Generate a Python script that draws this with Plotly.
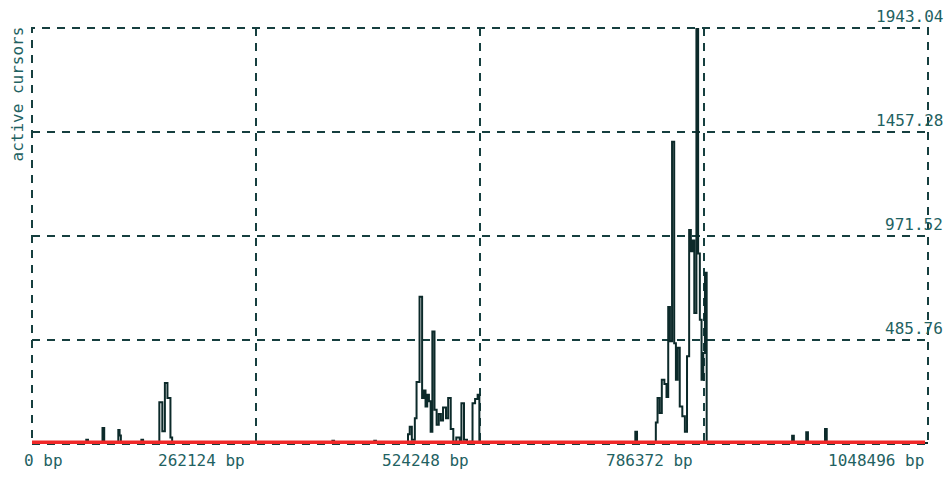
import plotly.graph_objects as go

# Sampled cursor activity along the sequence (position in bp, active cursors)
positions_bp = [
    0, 30000, 63500, 65500, 82500, 84500, 101000, 102500, 104000, 128000, 130000,
    149000, 152500, 155500, 158500, 162000, 164000,
    351500, 353500, 400500, 402500,
    440000, 442000, 444500, 448000, 450000, 453500, 456500, 458500, 460500,
    462500, 464500, 466500, 468500, 471000, 473500, 476000, 478500, 481000,
    484500, 487000, 490000, 493000, 496500, 500500, 502500, 505500, 509000,
    512500, 515500, 518500, 521500, 523500,
    706000, 708000,
    730000, 732000, 734500, 737000, 740000, 742500, 744500, 746500, 749000,
    751500, 753500, 755500, 758000, 761000, 764000, 766500, 769000, 771000,
    773000, 775000, 777500, 779500, 781500, 783500, 785500, 787500, 789500,
    889500, 891500, 906000, 908000, 928000, 930000, 1048496,
]
active_cursors = [
    0, 5, 20, 5, 75, 5, 65, 40, 5, 20, 5,
    195, 60, 285, 215, 30, 5,
    15, 5, 15, 5,
    45, 80, 20, 120, 290, 688, 215, 250, 175,
    230, 200, 57, 525, 160, 90, 140, 110, 170,
    120, 215, 70, 10, 30, 15, 190, 20, 5,
    10, 190, 210, 230, 5,
    57, 5,
    100, 215, 145, 300, 280, 220, 640, 480, 1412,
    470, 300, 450, 175, 130, 57, 410, 1000, 900,
    950, 612, 1943.04, 890, 580, 300, 425, 800, 5,
    38, 5, 55, 5, 70, 5, 5,
]

# Baseline series drawn in red
baseline_bp = [0, 1045000]
baseline_val = [7, 7]

x_max = 1048496
y_max = 1943.04
x_ticks = [0, 262124, 524248, 786372, 1048496]
x_tick_labels = ["0 bp", "262124 bp", "524248 bp", "786372 bp", "1048496 bp"]
y_ticks = [0, 485.76, 971.52, 1457.28, 1943.04]
y_tick_labels = ["485.76", "971.52", "1457.28", "1943.04"]

FONT = "DejaVu Sans Mono"
TEXT_COLOR = "#1f6262"
GRID_COLOR = "#163f3f"
DASH = "8px,7px"

fig = go.Figure()
fig.add_trace(go.Scatter(
    x=positions_bp, y=active_cursors, mode="lines",
    line=dict(color="#0c2a2a", width=2, shape="hv"),
    showlegend=False, hoverinfo="skip",
))
fig.add_trace(go.Scatter(
    x=baseline_bp, y=baseline_val, mode="lines",
    line=dict(color="#f02828", width=4),
    showlegend=False, hoverinfo="skip",
))

grid = dict(showgrid=True, gridcolor=GRID_COLOR, gridwidth=2, griddash=DASH,
            zeroline=False, showline=False, ticks="", showticklabels=False)
fig.update_xaxes(range=[0, x_max], tickvals=x_ticks, **grid)
fig.update_yaxes(range=[0, y_max], tickvals=y_ticks, **grid)

# dashed frame around the plotting area
fig.add_shape(type="rect", xref="paper", yref="paper", x0=0, x1=1, y0=0, y1=1,
              line=dict(color=GRID_COLOR, width=2, dash=DASH), layer="below")

annotations = []
# x-axis labels under the frame
for i, (v, t) in enumerate(zip(x_ticks, x_tick_labels)):
    if i == 0:
        anchor, shift = "left", -10
    elif i == len(x_ticks) - 1:
        anchor, shift = "right", -2
    else:
        anchor, shift = "center", -55
    annotations.append(dict(
        x=v, xref="x", y=0, yref="paper", text=t, showarrow=False,
        xanchor=anchor, xshift=shift, yanchor="middle", yshift=-16,
        font=dict(family=FONT, size=16, color=TEXT_COLOR),
    ))
# y-axis labels sitting above each grid line on the right
for v, t in zip(y_ticks[1:], y_tick_labels):
    annotations.append(dict(
        x=1, xref="paper", y=v, yref="y", text=t, showarrow=False,
        xanchor="right", xshift=17, yanchor="middle", yshift=12,
        font=dict(family=FONT, size=16, color=TEXT_COLOR),
    ))
# axis title
annotations.append(dict(
    x=0, xref="paper", y=1, yref="paper", text="active cursors", showarrow=False,
    textangle=-90, xanchor="center", xshift=-15, yanchor="top", yshift=3,
    font=dict(family=FONT, size=16, color=TEXT_COLOR),
))

fig.update_layout(
    width=950, height=477,
    margin=dict(l=32, r=22, t=28, b=33),
    paper_bgcolor="white", plot_bgcolor="white",
    annotations=annotations,
    showlegend=False,
)

fig.write_html("out.html")
